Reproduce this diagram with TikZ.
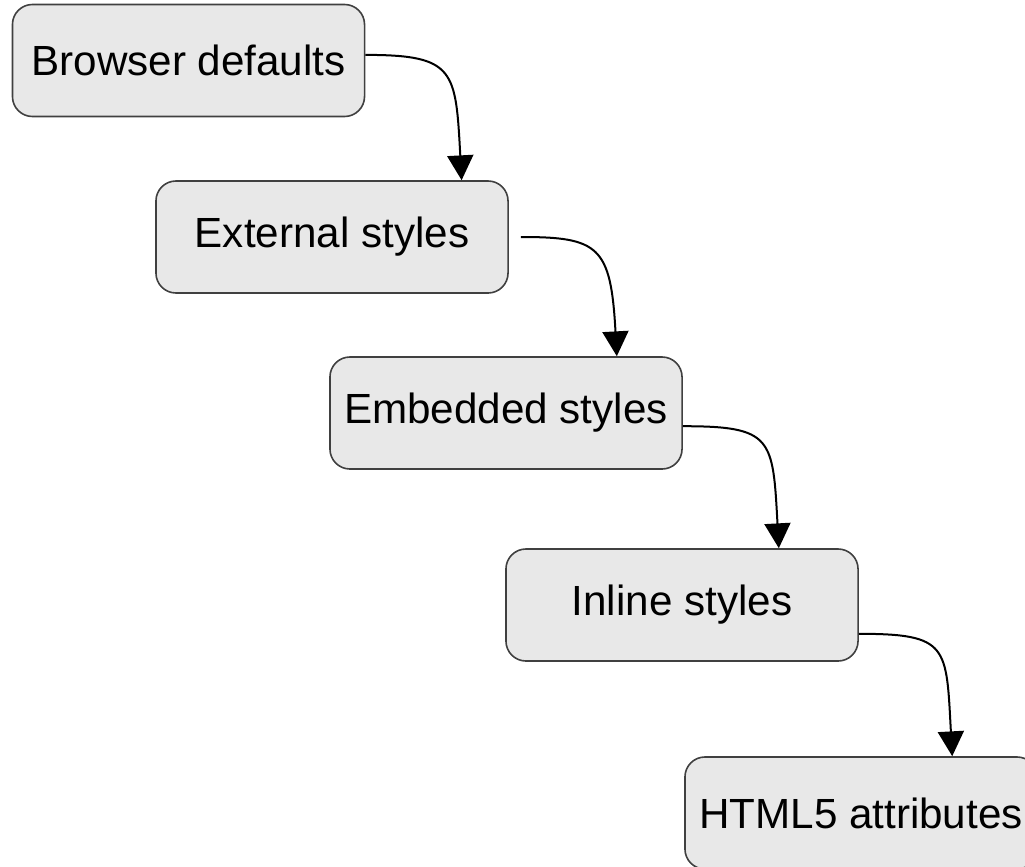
\documentclass[tikz,border=0pt]{standalone}
\usepackage{fontspec}
\setmainfont{Liberation Sans}
\usetikzlibrary{arrows.meta}

\begin{document}
\begin{tikzpicture}[x=0.025cm,y=0.025cm,
    level/.style={draw=black!75,line width=0.04cm,fill=black!9,rounded corners=0.5cm,
      minimum width=8.8cm,minimum height=2.8cm,inner sep=0pt,
      font=\fontsize{30}{36}\selectfont},
    conn/.style={line width=0.05cm,-{Triangle[width=0.65cm,length=0.62cm]},
      to path={.. controls +(90,0) and +(-6,110) .. (\tikztotarget)}}]
    \useasboundingbox (0,0) rectangle (1025,-867);

    \node[level] (Browser)  at (188.5,-60.5) {Browser defaults};
    \node[level] (External) at (332,-237)    {External styles};
    \node[level] (Embedded) at (506,-413)    {Embedded styles};
    \node[level] (Inline)   at (682,-605)    {Inline styles};
    \node[level] (HTML)     at (861,-813)    {HTML5 attributes};

    \coordinate (TipA) at ([xshift=-1.18cm]External.north east);
    \coordinate (TipB) at ([xshift=-1.65cm]Embedded.north east);
    \coordinate (TipC) at ([xshift=-2.0cm]Inline.north east);
    \coordinate (TipD) at ([xshift=6.7cm]HTML.north west);

    \draw[conn] ([yshift=0.14cm]Browser.east) to (TipA);
    \draw[conn,shorten <=0.3cm] (External.east) to (TipB);
    \draw[conn] ([yshift=-0.33cm]Embedded.east) to (TipC);
    \draw[conn] ([yshift=-0.72cm]Inline.east) to (TipD);
\end{tikzpicture}
\end{document}
